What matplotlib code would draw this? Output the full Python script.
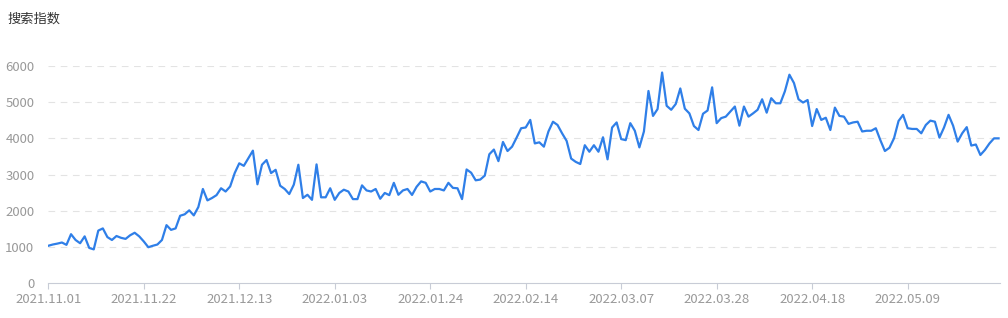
import matplotlib
matplotlib.use("Agg")
import matplotlib.pyplot as plt
import numpy as np

plt.rcParams['font.family'] = ['Noto Sans CJK SC', 'DejaVu Sans']

# 搜索指数, 每日一个值, 2021.11.01 起
valores = [
    1030, 1065, 1090, 1120, 1055, 1350, 1190, 1100, 1290, 970,
    930, 1450, 1510, 1270, 1190, 1300, 1250, 1220, 1320, 1390,
    1290, 1150, 990, 1030, 1065, 1190, 1600, 1470, 1510, 1860,
    1900, 2010, 1870, 2100, 2600, 2285, 2350, 2430, 2620, 2530,
    2670, 3040, 3310, 3240, 3450, 3660, 2730, 3270, 3400, 3040,
    3130, 2690, 2600, 2460, 2720, 3270, 2350, 2440, 2300, 3280,
    2370, 2370, 2620, 2300, 2490, 2580, 2530, 2320, 2320, 2700,
    2560, 2530, 2600, 2330, 2490, 2430, 2770, 2440, 2560, 2600,
    2435, 2660, 2810, 2770, 2530, 2600, 2600, 2560, 2770, 2630,
    2620, 2320, 3140, 3050, 2840, 2860, 2970, 3560, 3690, 3370,
    3900, 3650, 3770, 4020, 4280, 4300, 4510, 3860, 3890, 3770,
    4190, 4460, 4370, 4140, 3930, 3440, 3350, 3290, 3810, 3630,
    3810, 3630, 4030, 3420, 4300, 4440, 3980, 3950, 4420, 4210,
    3750, 4190, 5310, 4620, 4810, 5820, 4900, 4790, 4950, 5380,
    4820, 4690, 4340, 4230, 4680, 4770, 5410, 4420, 4560, 4600,
    4740, 4880, 4350, 4880, 4600, 4690, 4790, 5080, 4710, 5110,
    4970, 4970, 5300, 5760, 5530, 5080, 4990, 5060, 4340, 4810,
    4510, 4570, 4230, 4850, 4620, 4600, 4400, 4440, 4460, 4190,
    4210, 4210, 4280, 3950, 3650, 3740, 4000, 4480, 4650, 4280,
    4260, 4260, 4140, 4370, 4490, 4460, 4020, 4300, 4650, 4350,
    3910, 4140, 4310, 3800, 3830, 3540, 3680, 3860, 4000, 4000,
]

etiquetas_x = ['2021.11.01', '2021.11.22', '2021.12.13', '2022.01.03', '2022.01.24',
               '2022.02.14', '2022.03.07', '2022.03.28', '2022.04.18', '2022.05.09']
marcas_y = [0, 1000, 2000, 3000, 4000, 5000, 6000]

dias = np.arange(len(valores))

fig = plt.figure(figsize=(10.08, 3.18), dpi=100)
ax = fig.add_axes([0.0479, 0.110, 0.9441, 0.6824])

# rejilla horizontal discontinua
for v in marcas_y[1:]:
    ax.axhline(v, color='#e3e3e3', linewidth=0.8, linestyle=(0, (6, 5)), zorder=0)

ax.plot(dias, valores, color='#2f7fe8', linewidth=1.6, zorder=3)

ax.set_xlim(0, 209.3)
ax.set_ylim(0, 6000)

for lado in ['top', 'right', 'left']:
    ax.spines[lado].set_visible(False)
ax.spines['bottom'].set_color('#c8ccd6')
ax.spines['bottom'].set_linewidth(0.8)

ax.set_xticks(np.arange(0, 21 * len(etiquetas_x), 21))
ax.set_xticklabels(etiquetas_x)
ax.set_yticks(marcas_y)
ax.tick_params(axis='x', colors='#c8ccd6', length=4, width=0.8, labelcolor='#999999',
               labelsize=9.5, pad=3)
ax.tick_params(axis='y', length=0, labelcolor='#999999', labelsize=9.5, pad=10)

fig.text(0.007, 0.94, '搜索指数', fontsize=9.5, color='#333333', va='center', ha='left')

fig.savefig('out.png', dpi=100)
